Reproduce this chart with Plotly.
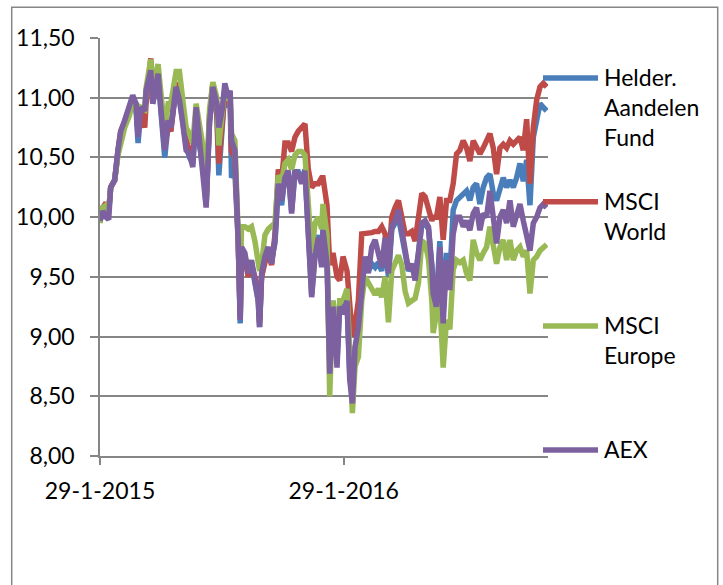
import plotly.graph_objects as go
import pandas as pd

start = pd.Timestamp("2015-01-29")

day_offsets = [0, 4, 9, 13, 16, 22, 27, 31, 37, 44, 49, 54, 57, 61, 67, 69, 74, 76, 79, 84,
               87, 91, 97, 102, 106, 114, 119, 124, 129, 134, 139, 144, 149, 154, 159, 164, 169, 175, 178, 183,
               187, 192, 195, 197, 202, 207, 210, 212, 217, 222, 227, 232, 237, 239, 242, 247, 252, 257, 262, 267,
               272, 277, 282, 287, 292, 297, 302, 307, 312, 317, 322, 327, 332, 334, 340, 344, 349, 355, 359, 364,
               370, 374, 378, 382, 387, 392, 397, 402, 407, 412, 417, 422, 427, 432, 437, 442, 447, 452, 457, 462,
               467, 472, 477, 482, 487, 492, 497, 499, 504, 509, 514, 519, 524, 529, 534, 539, 544, 549, 554, 559,
               564, 569, 574, 579, 584, 589, 594, 599, 604, 609, 614, 619, 624, 629, 634, 639, 644, 649, 654, 659,
               664, 669]

helder = [9.97, 10.06, 10.1, 10.05, 10.25, 10.31, 10.55, 10.7, 10.8, 10.93, 11.0, 10.9, 10.62, 10.9, 10.85, 11.05, 11.2, 11.25, 10.95, 11.15,
          11.2, 10.9, 10.5, 10.78, 10.72, 11.08, 11.0, 10.8, 10.6, 10.5, 10.45, 10.9, 10.6, 10.45, 10.1, 10.8, 11.1, 10.85, 10.35, 10.75,
          11.05, 10.92, 10.95, 10.33, 10.38, 9.8, 9.11, 9.72, 9.68, 9.52, 9.62, 9.45, 9.3, 9.08, 9.5, 9.65, 9.72, 9.65, 9.78, 10.25,
          10.1, 10.35, 10.38, 10.05, 10.38, 10.38, 10.3, 10.4, 9.95, 9.35, 9.7, 9.85, 9.6, 9.9, 9.65, 8.8, 9.3, 8.8, 9.28, 9.2,
          9.3, 8.7, 8.55, 8.9, 9.05, 9.45, 9.65, 9.55, 9.61, 9.58, 9.62, 9.55, 9.8, 9.5, 9.9, 9.95, 10.0, 9.85, 9.7, 9.55,
          9.6, 9.5, 9.7, 9.95, 9.95, 9.9, 9.6, 9.4, 9.3, 9.8, 9.2, 9.7, 9.5, 10.06, 10.14, 10.17, 10.2, 10.22, 10.14, 10.25,
          10.28, 10.11, 10.25, 10.33, 10.36, 10.2, 10.14, 10.25, 10.33, 10.25, 10.31, 10.25, 10.33, 10.45, 10.3, 10.48, 10.1, 10.67, 10.81, 10.95,
          10.92, 10.89]

msci_world = [9.97, 10.08, 10.12, 10.05, 10.25, 10.31, 10.55, 10.72, 10.8, 10.92, 11.0, 10.92, 10.72, 10.88, 10.75, 10.95, 11.28, 11.33, 11.05, 11.2,
              11.22, 10.95, 10.6, 10.75, 10.72, 11.12, 11.08, 10.85, 10.65, 10.55, 10.5, 10.9, 10.68, 10.55, 10.12, 10.85, 11.12, 10.9, 10.45, 10.8,
              11.05, 10.95, 10.98, 10.55, 10.5, 9.8, 9.16, 9.7, 9.65, 9.5, 9.6, 9.5, 9.35, 9.12, 9.5, 9.62, 9.7, 9.6, 9.85, 10.4,
              10.3, 10.62, 10.62, 10.55, 10.67, 10.72, 10.75, 10.78, 10.4, 10.25, 10.28, 10.28, 10.33, 10.33, 10.1, 9.6, 9.7, 9.5, 9.47, 9.67,
              9.55, 9.2, 9.0, 9.1, 9.3, 9.86, 9.86, 9.86, 9.87, 9.88, 9.88, 9.92, 9.86, 9.6, 10.0, 10.08, 10.14, 10.0, 9.86, 9.86,
              9.88, 9.8, 10.0, 10.2, 10.17, 10.08, 9.97, 10.0, 10.0, 10.17, 9.81, 10.14, 10.14, 10.28, 10.53, 10.56, 10.64, 10.58, 10.47, 10.64,
              10.58, 10.53, 10.58, 10.64, 10.7, 10.58, 10.36, 10.58, 10.61, 10.58, 10.64, 10.61, 10.64, 10.67, 10.56, 10.82, 10.28, 10.75, 10.98, 11.09,
              11.12, 11.09]

msci_europe = [9.95, 10.08, 10.1, 10.05, 10.25, 10.31, 10.52, 10.62, 10.75, 10.85, 10.98, 10.95, 10.8, 10.92, 10.9, 11.08, 11.28, 11.32, 11.1, 11.25,
               11.28, 11.05, 10.72, 10.95, 10.95, 11.22, 11.22, 10.98, 10.75, 10.7, 10.62, 10.95, 10.75, 10.6, 10.2, 10.9, 11.13, 11.0, 10.6, 10.85,
               11.08, 10.98, 11.0, 10.7, 10.64, 9.85, 9.4, 9.92, 9.92, 9.9, 9.92, 9.8, 9.6, 9.55, 9.6, 9.85, 9.9, 9.92, 9.95, 10.35,
               10.3, 10.45, 10.48, 10.4, 10.52, 10.55, 10.55, 10.52, 10.15, 9.7, 9.95, 10.0, 9.9, 10.11, 9.85, 8.5, 9.3, 8.9, 9.3, 9.3,
               9.4, 8.8, 8.36, 8.75, 8.83, 9.3, 9.5, 9.45, 9.4, 9.35, 9.4, 9.33, 9.5, 9.12, 9.55, 9.62, 9.68, 9.6, 9.38, 9.28,
               9.3, 9.32, 9.45, 9.8, 9.78, 9.65, 9.3, 9.03, 9.19, 9.3, 8.74, 9.14, 9.06, 9.56, 9.64, 9.62, 9.64, 9.53, 9.47, 9.81,
               9.7, 9.64, 9.7, 9.75, 9.92, 9.75, 9.61, 9.75, 9.81, 9.64, 9.81, 9.64, 9.72, 9.75, 9.67, 9.72, 9.36, 9.64, 9.67, 9.72,
               9.75, 9.77]

aex = [9.97, 10.05, 10.0, 9.98, 10.25, 10.31, 10.57, 10.72, 10.81, 10.95, 11.02, 10.95, 10.67, 10.92, 10.89, 11.06, 11.2, 11.23, 10.95, 11.14,
       11.2, 10.92, 10.56, 10.81, 10.75, 11.09, 10.98, 10.78, 10.56, 10.53, 10.42, 10.92, 10.64, 10.45, 10.08, 10.78, 11.09, 10.95, 10.75, 10.9,
       11.12, 11.0, 11.06, 10.64, 10.56, 9.81, 9.14, 9.75, 9.7, 9.53, 9.64, 9.47, 9.3, 9.08, 9.53, 9.67, 9.75, 9.61, 9.81, 10.28,
       10.14, 10.33, 10.39, 10.03, 10.39, 10.36, 10.28, 10.39, 9.92, 9.33, 9.67, 9.83, 9.58, 9.89, 9.61, 8.69, 9.25, 8.74, 9.25, 9.19,
       9.3, 8.64, 8.44, 8.91, 9.08, 9.41, 9.67, 9.53, 9.75, 9.81, 9.7, 9.58, 9.83, 9.53, 9.92, 9.97, 10.06, 9.89, 9.7, 9.56,
       9.61, 9.47, 9.7, 9.95, 9.97, 9.92, 9.58, 9.36, 9.25, 9.75, 9.11, 9.64, 9.39, 9.86, 10.0, 10.0, 9.92, 9.97, 9.89, 10.03,
       10.08, 9.89, 10.03, 10.0, 10.22, 10.0, 9.78, 10.0, 10.06, 9.95, 10.14, 9.92, 10.0, 10.11, 9.97, 9.86, 9.72, 9.95, 10.0, 10.08,
       10.11, 10.08]

series_names = ["Helder.<br>Aandelen<br>Fund", "MSCI<br>World", "MSCI<br>Europe", "AEX"]
series_values = [helder, msci_world, msci_europe, aex]
series_colors = ["#4A7EBB", "#BE4B48", "#98B954", "#7D60A0"]

tick_dates = [pd.Timestamp("2015-01-29"), pd.Timestamp("2016-01-29")]
tick_labels = ["29-1-2015", "29-1-2016"]

dates = [start + pd.Timedelta(days=d) for d in day_offsets]
x_end = start + pd.Timedelta(days=671)

FONT = "Lato, 'Open Sans', sans-serif"
GRAY = "#868686"

fig = go.Figure()
for name, vals, color in zip(series_names, series_values, series_colors):
    fig.add_trace(go.Scatter(x=dates, y=vals, mode="lines", name=name.replace("<br>", " "),
                             line=dict(color=color, width=5.5), showlegend=False,
                             hoverinfo="skip"))

L, R, T, B = 100, 548, 38, 456  # plot area in page pixels
def px_x(p):
    return (p - L) / (R - L)
def px_y(p):
    return (B - p) / (B - T)

shapes = [dict(type="rect", xref="paper", yref="paper",
               x0=px_x(11.7), x1=px_x(717.7), y0=px_y(640), y1=px_y(7.3),
               line=dict(color=GRAY, width=1.5), layer="below")]
annotations = []
legend_y = [78, 201.7, 326, 450]
for name, color, ly in zip(series_names, series_colors, legend_y):
    shapes.append(dict(type="line", xref="paper", yref="paper",
                       x0=px_x(543), x1=px_x(598), y0=px_y(ly), y1=px_y(ly),
                       line=dict(color=color, width=5.5)))
    annotations.append(dict(xref="paper", yref="paper", x=px_x(602), y=px_y(ly - 17),
                            xanchor="left", yanchor="top", align="left", showarrow=False,
                            text=name, font=dict(family=FONT, size=23, color="black")))

fig.update_layout(
    width=723, height=585,
    margin=dict(l=L, r=723 - R, t=T, b=585 - B),
    paper_bgcolor="white", plot_bgcolor="white",
    separators=",.",
    shapes=shapes, annotations=annotations,
    showlegend=False,
    xaxis=dict(type="date", range=[start, x_end], tickvals=tick_dates, ticktext=tick_labels,
               showgrid=False, showline=True, linecolor=GRAY, linewidth=1.5,
               ticks="outside", ticklen=7, tickwidth=1.5, tickcolor=GRAY,
               ticklabelstandoff=7,
               tickfont=dict(family=FONT, size=23, color="black")),
    yaxis=dict(range=[8, 11.5], tick0=8, dtick=0.5, tickformat=".2f",
               showgrid=True, gridcolor=GRAY, gridwidth=1.5, zeroline=False,
               showline=True, linecolor=GRAY, linewidth=1.5,
               ticks="outside", ticklen=8, tickwidth=1.5, tickcolor=GRAY,
               ticklabelstandoff=11,
               tickfont=dict(family=FONT, size=23, color="black")),
)

fig.write_html("out.html", config={"displayModeBar": False},
               post_script="document.body.style.margin='0px';document.body.style.overflow='hidden';")
